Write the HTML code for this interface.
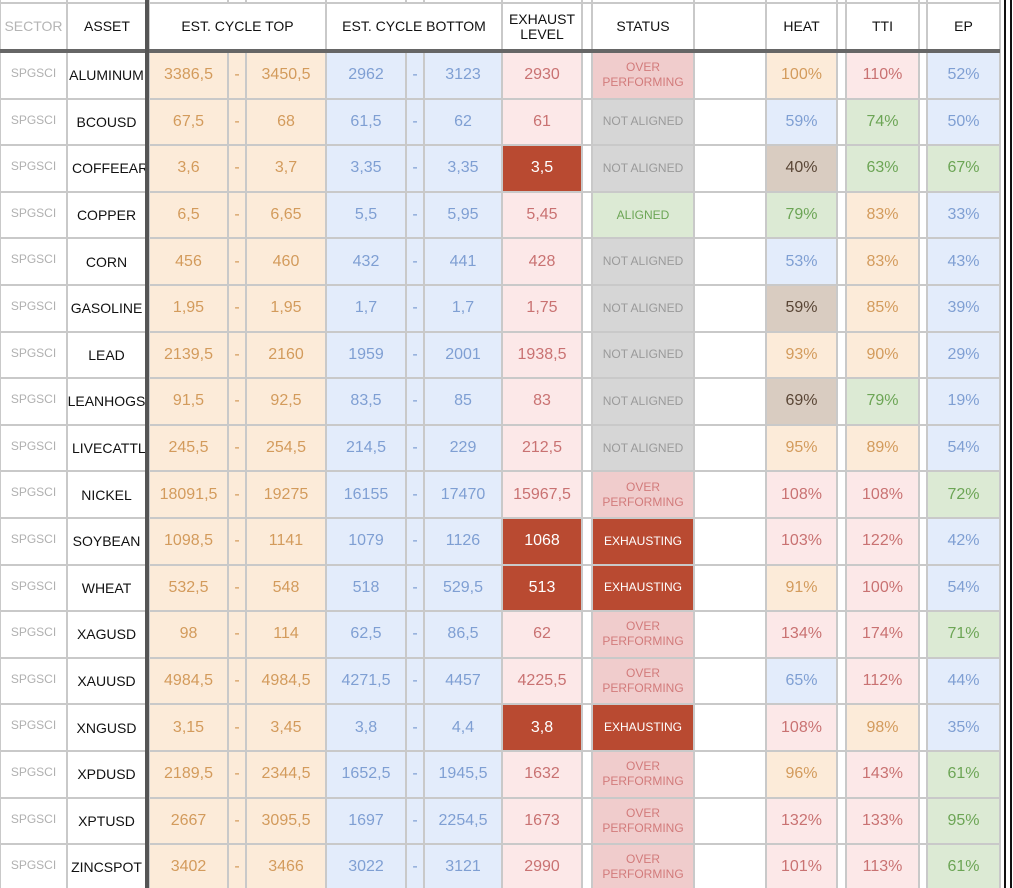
<!DOCTYPE html>
<html><head><meta charset="utf-8">
<style>
html,body{margin:0;padding:0;background:#fff;}
#t{position:relative;width:1013px;height:888px;overflow:hidden;background:#fff;font-family:"Liberation Sans",Arial,sans-serif;}
.c{position:absolute;box-sizing:border-box;display:flex;align-items:center;justify-content:center;text-align:center;white-space:nowrap;overflow:hidden;}
.ln{position:absolute;background:#c9c9c9;}
</style></head><body>
<div id="t"></div>
<script>
const assets=["ALUMINUM","BCOUSD","COFFEEARABICA","COPPER","CORN","GASOLINE","LEAD","LEANHOGS","LIVECATTLE","NICKEL","SOYBEAN","WHEAT","XAGUSD","XAUUSD","XNGUSD","XPDUSD","XPTUSD","ZINCSPOT"];
const topLow=["3386,5","67,5","3,6","6,5","456","1,95","2139,5","91,5","245,5","18091,5","1098,5","532,5","98","4984,5","3,15","2189,5","2667","3402"];
const topHigh=["3450,5","68","3,7","6,65","460","1,95","2160","92,5","254,5","19275","1141","548","114","4984,5","3,45","2344,5","3095,5","3466"];
const botLow=["2962","61,5","3,35","5,5","432","1,7","1959","83,5","214,5","16155","1079","518","62,5","4271,5","3,8","1652,5","1697","3022"];
const botHigh=["3123","62","3,35","5,95","441","1,7","2001","85","229","17470","1126","529,5","86,5","4457","4,4","1945,5","2254,5","3121"];
const exhaust=["2930","61","3,5","5,45","428","1,75","1938,5","83","212,5","15967,5","1068","513","62","4225,5","3,8","1632","1673","2990"];
const exhaustHot=[0,0,1,0,0,0,0,0,0,0,1,1,0,0,1,0,0,0];
const status=["O","N","N","A","N","N","N","N","N","O","E","E","O","O","E","O","O","O"];
const heat=[100,59,40,79,53,59,93,69,95,108,103,91,134,65,108,96,132,101];
const heatCls=["o","b","n","g","b","n","o","n","o","p","p","o","p","b","p","o","p","p"];
const tti=[110,74,63,83,83,85,90,79,89,108,122,100,174,112,98,143,133,113];
const ttiCls=["p","g","g","o","o","o","o","g","o","p","p","p","p","p","o","p","p","p"];
const ep=[52,50,67,33,43,39,29,19,54,72,42,54,71,44,35,61,95,61];
const epCls=["b","b","g","b","b","b","b","b","b","g","b","b","g","b","b","g","g","g"];

const pal={o:["#fcebd9","#d39b5c"],b:["#e3ecfb","#7f9fd3"],p:["#fce8e8","#c97272"],g:["#dcead4","#6ca555"],n:["#d9ccc1","#5a4636"],r:["#b94a31","#ffffff"],w:["#ffffff","#000"]};
const T=document.getElementById('t');
const X=[0,67,149,228,246,326,406,424,502,582,592,694,766,837,846,919,927,1000];
const HDR_TOP=3,HDR_BOT=50,ROW0=53,RH=46.6;
function cell(x0,x1,y0,y1,bg,fg,txt,fs,name){
  const d=document.createElement('div');d.className='c';
  d.style.left=(x0+1)+'px';d.style.width=(x1-x0-2)+'px';
  d.style.top=(y0+1)+'px';d.style.height=(y1-y0-2)+'px';
  d.style.background=bg;d.style.color=fg;d.style.fontSize=fs+'px';
  d.innerHTML=txt;
  
  
  T.appendChild(d);return d;
}
for(const x of X){const l=document.createElement('div');l.className='ln';l.style.left=(x-1)+'px';l.style.width='2px';l.style.top='0';l.style.height='888px';


T.appendChild(l);}
for(let r=0;r<=18;r++){const y=r===0?HDR_TOP:ROW0+RH*r-1;const l=document.createElement('div');l.className='ln';l.style.left='0';l.style.width='1000px';l.style.top=(y-1)+'px';l.style.height='2px';


T.appendChild(l);}
const hd=[[0,1,"SECTOR","#b5b5b5"],[1,2,"ASSET"],[2,5,"EST. CYCLE TOP"],[5,8,"EST. CYCLE BOTTOM"],[8,9,"EXHAUST<br>LEVEL"],[9,10,""],[10,11,"STATUS"],[11,12,""],[12,13,"HEAT"],[13,14,""],[14,15,"TTI"],[15,16,""],[16,17,"EP"]];
for(const h of hd){const x1=h[1]===2?147:X[h[1]];const c=cell(X[h[0]],x1,HDR_TOP,HDR_BOT,"#fff",h[3]||"#111",h[2],14,'header-'+(h[2]?h[2].toLowerCase().replace(/<br>/,' ').replace(/[^a-z]+/g,'-'):'blank'));c.style.lineHeight='15px';}
{const l=document.createElement('div');l.style.cssText='position:absolute;left:0;width:1000px;top:49px;height:4px;background:#666;';


T.appendChild(l);}
{const l=document.createElement('div');l.style.cssText='position:absolute;left:145px;width:4px;top:0;height:888px;background:#555;';


T.appendChild(l);}
{const l=document.createElement('div');l.style.cssText='position:absolute;left:1004px;width:8px;top:0;height:888px;border-left:2px solid #111;border-right:2px solid #111;box-sizing:border-box;background:#fff;';


T.appendChild(l);}
const stTxt={O:["OVER<br>PERFORMING","#f0cccc","#d27b7b"],N:["NOT ALIGNED","#d6d6d6","#9a9a9a"],A:["ALIGNED","#dcead4","#6ca555"],E:["EXHAUSTING","#b94a31","#fff"]};
for(let i=0;i<assets.length;i++){
  const y0=ROW0+RH*i-1,y1=ROW0+RH*(i+1)-1;
  const s=cell(X[0],X[1],y0,y1,"#fff","#b0b0b0","SPGSCI",12,'sector-cell');
  s.style.alignItems='flex-start';s.style.paddingTop='13px';
  const a=cell(X[1],146,y0,y1,"#fff","#111",assets[i],14,'asset-cell');
  if(assets[i].length>8){a.style.justifyContent='flex-start';a.style.paddingLeft='4px';}
  const o=pal.o,b=pal.b;
  cell(X[2],X[3],y0,y1,o[0],o[1],topLow[i],16,'cycle-top-low');
  cell(X[3],X[4],y0,y1,o[0],o[1],"-",16,'cycle-top-dash');
  cell(X[4],X[5],y0,y1,o[0],o[1],topHigh[i],16,'cycle-top-high');
  cell(X[5],X[6],y0,y1,b[0],b[1],botLow[i],16,'cycle-bottom-low');
  cell(X[6],X[7],y0,y1,b[0],b[1],"-",16,'cycle-bottom-dash');
  cell(X[7],X[8],y0,y1,b[0],b[1],botHigh[i],16,'cycle-bottom-high');
  const e=exhaustHot[i]?pal.r:pal.p;
  cell(X[8],X[9],y0,y1,e[0],e[1],exhaust[i],16,'exhaust-level');
  const st=stTxt[status[i]];
  const sc=cell(X[10],X[11],y0,y1,st[1],st[2],st[0],12,'status-cell');sc.style.lineHeight='15px';
  const h=pal[heatCls[i]];cell(X[12],X[13],y0,y1,h[0],h[1],heat[i]+"%",16,'heat-cell');
  const t=pal[ttiCls[i]];cell(X[14],X[15],y0,y1,t[0],t[1],tti[i]+"%",16,'tti-cell');
  const p=pal[epCls[i]];cell(X[16],X[17],y0,y1,p[0],p[1],ep[i]+"%",16,'ep-cell');
}
</script>
</body></html>
